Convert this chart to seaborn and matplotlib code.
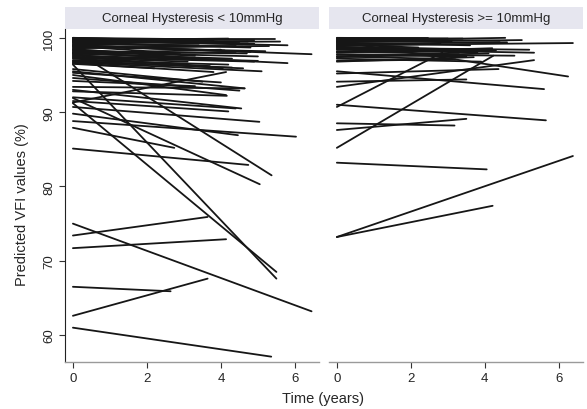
import numpy as np
import pandas as pd
import seaborn as sns
import matplotlib.pyplot as plt
from matplotlib.patches import Rectangle

groups = ["Corneal Hysteresis < 10mmHg", "Corneal Hysteresis >= 10mmHg"]

# CH < 10 mmHg : follow-up (years), VFI at baseline, VFI at last visit
lo_tend = [5.36, 3.64, 2.64, 6.45, 4.14, 3.64,
           5.5, 5.5,
           6.03, 4.46, 2.74, 4.74, 5.05, 5.37, 5.04, 4.64, 4.16, 4.4, 4.55, 4.2, 4.14, 4.64, 4.14,
           5.45, 5.8, 6.45, 5.8, 4.73, 4.8, 3.95, 4.05,
           3.5, 4.2, 3.0, 4.6, 3.8, 2.8, 5.2, 4.4, 3.3, 5.0, 4.0, 2.5, 4.9, 3.7, 4.3, 5.1, 2.2,
           3.2, 4.9, 5.6,
           4.5, 3.9, 4.8, 3.4, 4.1, 5.3, 2.9, 4.7, 3.6, 4.4, 5.0, 3.1, 4.2, 4.6, 3.8, 4.9, 2.6, 4.3,
           3.5, 4.0, 4.5, 3.3]
lo_v0 = [61.0, 62.6, 66.5, 75.0, 71.7, 73.4,
         91.2, 96.4,
         88.8, 89.8, 87.9, 85.1, 91.9, 98.4, 90.7, 93.4, 92.8, 92.0, 93.0, 91.5, 91.3, 95.5, 95.0,
         99.9, 99.6, 99.0, 98.0, 99.8, 99.0, 98.5, 97.5,
         100.0, 99.7, 99.5, 99.3, 99.2, 99.0, 98.8, 98.6, 98.3, 98.1, 97.9, 97.7, 97.4, 97.2, 96.9, 96.7, 96.5,
         100.0, 99.9, 99.4,
         99.8, 99.6, 99.4, 99.1, 98.9, 98.7, 98.4, 98.2, 98.0, 97.8, 97.6, 97.3, 97.0, 96.8, 96.6, 99.5, 98.9, 97.9,
         95.8, 95.3, 94.6, 94.2]
lo_v1 = [57.1, 67.6, 65.9, 63.2, 72.9, 75.9,
         68.5, 67.6,
         86.7, 86.9, 85.2, 82.9, 80.3, 81.5, 88.7, 93.2, 92.2, 90.5, 90.5, 90.1, 95.4, 93.2, 92.3,
         99.9, 99.0, 97.8, 96.6, 99.5, 98.1, 97.0, 95.9,
         99.8, 99.9, 99.4, 98.8, 99.6, 98.5, 98.2, 98.9, 97.6, 97.5, 98.4, 97.0, 96.8, 96.2, 96.0, 95.5, 95.9,
         99.6, 99.7, 99.5,
         99.3, 99.8, 98.7, 99.0, 98.3, 98.9, 97.8, 97.9, 97.1, 98.1, 96.9, 96.8, 96.4, 95.9, 95.4, 99.2, 98.0, 97.2,
         94.1, 94.0, 92.9, 93.5]

# CH >= 10 mmHg
hi_tend = [6.38, 4.21, 4.05, 4.23, 2.85, 5.65, 3.18, 3.5, 6.25, 5.6, 4.37, 3.5, 5.33,
           2.45, 4.55, 6.38, 5.33, 3.0, 3.6, 2.8, 4.0, 3.3, 4.8, 2.6, 3.9, 4.4, 5.0, 3.4, 2.2, 4.2, 3.7,
           3.1, 4.6, 2.9, 3.8, 4.3, 3.5, 4.1, 2.7, 5.2, 3.2]
hi_v0 = [73.2, 73.2, 83.2, 85.2, 90.7, 91.0, 88.5, 87.6, 99.5, 95.5, 95.2, 94.1, 93.4,
         100.0, 99.6, 99.0, 98.5, 99.8, 99.3, 98.9, 98.6, 98.2, 97.8, 97.5, 97.2, 99.9, 99.4, 100.0, 99.1, 98.0, 96.8,
         99.7, 99.2, 98.8, 98.4, 98.1, 97.7, 97.4, 99.5, 98.7, 96.9]
hi_v1 = [84.1, 77.4, 82.3, 97.6, 98.0, 88.9, 88.2, 89.1, 94.8, 93.1, 95.8, 94.4, 97.0,
         100.0, 100.0, 99.3, 98.0, 99.9, 99.0, 99.2, 98.3, 97.8, 97.6, 97.2, 96.8, 99.6, 99.7, 99.9, 98.7, 98.6, 97.4,
         99.5, 99.4, 98.5, 98.0, 98.3, 97.5, 97.9, 99.6, 98.4, 97.1]

rows = []
for grp, tend, v0, v1 in [(groups[0], lo_tend, lo_v0, lo_v1), (groups[1], hi_tend, hi_v0, hi_v1)]:
    for i, (t, a, b) in enumerate(zip(tend, v0, v1)):
        sid = grp + str(i)
        rows.append((grp, sid, 0.0, a))
        rows.append((grp, sid, t, b))
df = pd.DataFrame(rows, columns=["group", "subject", "time", "vfi"])

sns.set_style("ticks")
plt.rcParams["font.family"] = ["Liberation Sans", "DejaVu Sans"]

g = sns.relplot(data=df, x="time", y="vfi", col="group", kind="line", units="subject",
                estimator=None, color="#161616", lw=1.3, height=3.3, aspect=0.77,
                facet_kws=dict(sharey=True, sharex=True))
fig = g.figure
fig.set_size_inches(5.87, 4.10)
fig.subplots_adjust(left=0.111, right=0.993, bottom=0.115, top=0.927, wspace=0.04)
g.set_titles("")
g.set_axis_labels("", "")

for k, ax in enumerate(g.axes.flat):
    ax.set_xlim(-0.21, 6.65)
    ax.set_ylim(56.4, 101.2)
    ax.set_xticks([0, 2, 4, 6])
    ax.set_yticks([60, 70, 80, 90, 100])
    ax.tick_params(axis="both", length=4, width=0.8, color="#333333", labelsize=9.5, pad=3)
    ax.spines["bottom"].set_color("#9a9a9a")
    ax.spines["bottom"].set_linewidth(1.0)
    ax.spines["left"].set_color("#222222")
    ax.add_patch(Rectangle((0, 1.0), 1, 0.065, transform=ax.transAxes, clip_on=False,
                           facecolor="#e6e6ef", edgecolor="none"))
    ax.text(0.5, 1.033, groups[k], transform=ax.transAxes, ha="center", va="center", fontsize=9.5)
    if k == 0:
        plt.setp(ax.get_yticklabels(), rotation=90, va="center")
    else:
        ax.spines["left"].set_visible(False)
        ax.tick_params(axis="y", left=False, labelleft=False)

fig.text(0.55, 0.028, "Time (years)", ha="center", va="center", fontsize=10.5)
fig.text(0.037, 0.5, "Predicted VFI values (%)", ha="center", va="center", rotation=90, fontsize=10.5)

fig.savefig("out.png", dpi=100, facecolor="white")
